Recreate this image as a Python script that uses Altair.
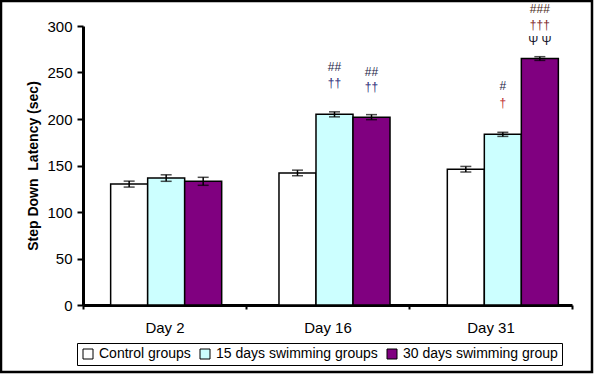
import altair as alt
import pandas as pd

days = ["Day 2", "Day 16", "Day 31"]
groups = ["Control groups", "15 days swimming groups", "30 days swimming group"]
colors = ["#ffffff", "#ccffff", "#800080"]

control_vals = [130, 142, 146]
control_err = [3.2, 3.0, 3.0]
swim15_vals = [136.5, 205, 183.5]
swim15_err = [3.5, 2.7, 2.2]
swim30_vals = [133, 202, 265]
swim30_err = [4.3, 2.7, 2.0]

# annotations: day, group, label, y position (data units), colour
ann_day = ["Day 16", "Day 16", "Day 16", "Day 16", "Day 31", "Day 31", "Day 31", "Day 31", "Day 31"]
ann_group = [groups[1], groups[1], groups[2], groups[2], groups[1], groups[1], groups[2], groups[2], groups[2]]
ann_label = ["##", "††", "##", "††", "#", "†", "###", "†††", "Ψ Ψ"]
ann_pos = [256, 239, 250.5, 234, 235, 217, 318, 301, 284]
ann_color = ["#262648", "#2e2e78", "#262648", "#2e2e78", "#262648", "#c03030", "#4a2a22", "#802a2a", "#1a1a30"]

rows = []
for vals, errs, g in [(control_vals, control_err, groups[0]),
                      (swim15_vals, swim15_err, groups[1]),
                      (swim30_vals, swim30_err, groups[2])]:
    for d, v, e in zip(days, vals, errs):
        rows.append({"Day": d, "Group": g, "value": v, "lo": v - e, "hi": v + e})
df = pd.DataFrame(rows)

ann = pd.DataFrame({"Day": ann_day, "Group": ann_group, "label": ann_label,
                    "pos": ann_pos, "color": ann_color})

W, H = 489, 279
FONT = "Liberation Sans"

# bar positioning scale (Excel-like slight drift to the right)
xbar = alt.X("Day:N", sort=days, axis=None,
             scale=alt.Scale(paddingInner=0, paddingOuter=0, range=[-1, 504]))
xoff = alt.XOffset("Group:N", sort=groups,
                   scale=alt.Scale(paddingInner=0, paddingOuter=0.774))
yscale = alt.Scale(domain=[0, 300], nice=False)

base = alt.Chart(df)

bars = base.mark_bar(stroke="black", strokeWidth=1.5).encode(
    x=xbar,
    xOffset=xoff,
    y=alt.Y("value:Q", scale=yscale,
            axis=alt.Axis(values=[0, 50, 100, 150, 200, 250, 300],
                          title="Step Down \u00a0Latency (sec)", titleFontSize=14,
                          titleFontWeight="bold", titleFont=FONT, titleColor="black",
                          titlePadding=6, labelFontSize=15, labelFont=FONT,
                          labelColor="black", labelPadding=5,
                          tickSize=6, tickWidth=2, tickColor="black",
                          domainWidth=3, domainColor="black", grid=False)),
    color=alt.Color("Group:N", sort=groups,
                    scale=alt.Scale(domain=groups, range=colors),
                    legend=alt.Legend(title=None, orient="none", direction="horizontal",
                                      legendX=-6, legendY=317,
                                      symbolType="square", symbolSize=100,
                                      symbolStrokeColor="black", symbolStrokeWidth=1,
                                      labelFontSize=14, labelFont=FONT, labelColor="black",
                                      labelOffset=4, columnPadding=7, labelLimit=400,
                                      strokeColor="black", padding=4)),
)

err = base.mark_rule(color="black", strokeWidth=1.5).encode(
    x=xbar, xOffset=xoff, y="lo:Q", y2="hi:Q")
cap_lo = base.mark_tick(color="black", thickness=1.5, size=11).encode(
    x=xbar, xOffset=xoff, y="lo:Q")
cap_hi = base.mark_tick(color="black", thickness=1.5, size=11).encode(
    x=xbar, xOffset=xoff, y="hi:Q")

text = alt.Chart(ann).mark_text(fontSize=12, font=FONT, baseline="middle").encode(
    x=xbar, xOffset=xoff,
    y=alt.Y("pos:Q", scale=yscale),
    text="label:N",
    color=alt.Color("color:N", scale=None))

frame = alt.Chart(pd.DataFrame({"a": [0]})).mark_rect(
    fill=None, stroke="black", strokeWidth=2.5).encode(
    x=alt.value(-82), x2=alt.value(W + 20), y=alt.value(-25), y2=alt.value(H + 67))

data_layer = alt.layer(bars, err, cap_lo, cap_hi, text, frame)

# category axis (labels centred, ticks on band boundaries)
axis_layer = alt.Chart(pd.DataFrame({"Day": days})).mark_point(opacity=0, size=0).encode(
    x=alt.X("Day:N", sort=days,
            scale=alt.Scale(paddingInner=0, paddingOuter=0),
            axis=alt.Axis(title=None, labelFontSize=15, labelColor="black",
                          labelPadding=11, labelAngle=0, tickBand="extent",
                          tickSize=4, tickWidth=2, tickColor="black",
                          domainWidth=3, domainColor="black", labelFont=FONT)),
    y=alt.Y("Day:N", axis=None))

chart = alt.layer(data_layer, axis_layer).resolve_scale(x="independent", y="independent").properties(
    width=W, height=H,
    padding={"left": 83, "top": 26, "right": 22, "bottom": 71},
    autosize=alt.AutoSizeParams(type="none"),
    background="white",
).configure_view(stroke=None)

chart.save("out.html", embed_options={"renderer": "svg", "actions": False})
